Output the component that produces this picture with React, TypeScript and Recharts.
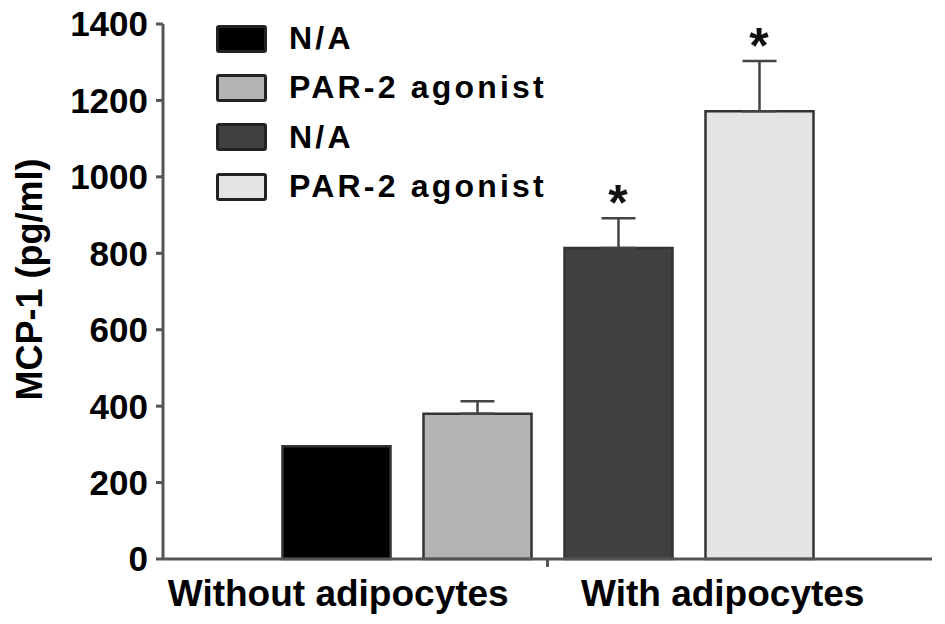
import React from "react";
import {
  Bar,
  ComposedChart,
  ErrorBar,
  Label,
  Legend,
  Scatter,
  XAxis,
  YAxis,
} from "recharts";

// one bar per condition
const categories = ["woNA", "woPAR", "wNA", "wPAR"];
const groups = [
  "Without adipocytes",
  "Without adipocytes",
  "With adipocytes",
  "With adipocytes",
];
const seriesNames = ["N/A", "PAR-2 agonist", "N/A", "PAR-2 agonist"];
const means = [295, 380, 814, 1172];
const errors = [0, 33, 78, 131];
const significant = [false, false, true, true];
const yTicks = [0, 200, 400, 600, 800, 1000, 1200, 1400];

const fills = ["#000000", "#b4b4b4", "#404040", "#e4e4e4"];
const FONT = "'Liberation Sans', Arial, sans-serif";
const AXIS = "#555555";

// each row only carries its own series so stacked bars sit one per band
const data = categories.map((cat, i) => {
  const row: Record<string, unknown> = {
    cat,
    group: groups[i],
    star: significant[i] ? means[i] + errors[i] : null,
  };
  categories.forEach((_, j) => {
    row[`v${j}`] = j === i ? means[i] : undefined;
    row[`e${j}`] = j === i && errors[i] > 0 ? [0, errors[i]] : undefined;
  });
  return row;
});

const GroupTick = (props: any) => {
  const { x, y, payload, index } = props;
  const half = payload?.offset ?? 192;
  return (
    <g>
      <text
        x={x - 17}
        y={y}
        dy="0.71em"
        textAnchor="middle"
        fontSize={37}
        fontWeight="bold"
        fill="#000"
      >
        {payload.value}
      </text>
      {index === 0 && (
        <line
          x1={x + half}
          x2={x + half}
          y1={y - 21}
          y2={y - 13}
          stroke={AXIS}
          strokeWidth={3}
        />
      )}
    </g>
  );
};

const StarShape = (props: any) => {
  const { cx, cy, payload } = props;
  if (payload?.star == null) return <g />;
  return (
    <text
      x={cx}
      y={cy + 2}
      textAnchor="middle"
      fontSize={50}
      fontWeight="bold"
      fill="#111"
    >
      *
    </text>
  );
};

const renderLegend = (props: any) => (
  <div style={{ display: "flex", flexDirection: "column" }}>
    {(props.payload || [])
      .filter((p: any) => String(p.dataKey).startsWith("v"))
      .map((p: any, i: number) => {
        const idx = Number(String(p.dataKey).slice(1));
        return (
          <div
            key={i}
            style={{ height: 49.3, display: "flex", alignItems: "center" }}
          >
            <span
              style={{
                width: 51,
                height: 28,
                background: fills[idx],
                border: "3px solid #222",
                borderRadius: 3,
                boxSizing: "border-box",
                marginRight: 22,
              }}
            />
            <span
              style={{
                fontFamily: FONT,
                fontWeight: "bold",
                fontSize: 32,
                letterSpacing: 3.2,
                color: "#000",
              }}
            >
              {p.value}
            </span>
          </div>
        );
      })}
  </div>
);

export default function App() {
  return (
    <div
      style={{
        position: "absolute",
        left: 0,
        top: 0,
        width: 945,
        height: 624,
        background: "#fff",
        fontFamily: FONT,
      }}
    >
      <ComposedChart
        width={945}
        height={624}
        data={data}
        margin={{ top: 24, right: 13, bottom: 0, left: 0 }}
      >
        <XAxis
          xAxisId="group"
          dataKey="group"
          allowDuplicatedCategory={false}
          height={65}
          interval={0}
          tickLine={false}
          tickSize={0}
          tickMargin={21}
          axisLine={{ stroke: AXIS, strokeWidth: 3 }}
          tick={GroupTick}
        />
        <XAxis
          xAxisId="bars"
          dataKey="cat"
          hide
          height={0}
          padding={{ left: 102.5, right: 102.5 }}
        />
        <YAxis
          width={163}
          domain={[0, 1400]}
          ticks={yTicks}
          interval={0}
          tickSize={7}
          tickMargin={8}
          axisLine={{ stroke: AXIS, strokeWidth: 3 }}
          tickLine={{ stroke: AXIS, strokeWidth: 3 }}
          tick={{ fill: "#000", fontSize: 35, fontWeight: "bold" }}
        >
          <Label
            content={(p: any) => {
              const vb = p.viewBox || { x: 0, y: 24, height: 535 };
              const cx = vb.x + 42;
              const cy = vb.y + vb.height / 2 - 12;
              return (
                <text
                  x={cx}
                  y={cy}
                  transform={`rotate(-90, ${cx}, ${cy})`}
                  textAnchor="middle"
                  fontSize={36}
                  fontWeight="bold"
                  fill="#000"
                >
                  MCP-1 (pg/ml)
                </text>
              );
            }}
          />
        </YAxis>
        <Legend
          layout="vertical"
          align="center"
          verticalAlign="middle"
          itemSorter="dataKey"
          wrapperStyle={{ left: 216, top: 14, width: 380 }}
          content={renderLegend}
        />
        {categories.map((_, i) => (
          <Bar
            key={i}
            xAxisId="bars"
            stackId="s"
            dataKey={`v${i}`}
            name={seriesNames[i]}
            fill={fills[i]}
            stroke="#333"
            strokeWidth={2.5}
            barSize={108}
            isAnimationActive={false}
          >
            <ErrorBar
              dataKey={`e${i}`}
              direction="y"
              width={17}
              stroke="#444"
              strokeWidth={2.5}
            />
          </Bar>
        ))}
        <Scatter
          xAxisId="bars"
          dataKey="star"
          legendType="none"
          shape={StarShape}
          isAnimationActive={false}
        />
      </ComposedChart>
    </div>
  );
}
